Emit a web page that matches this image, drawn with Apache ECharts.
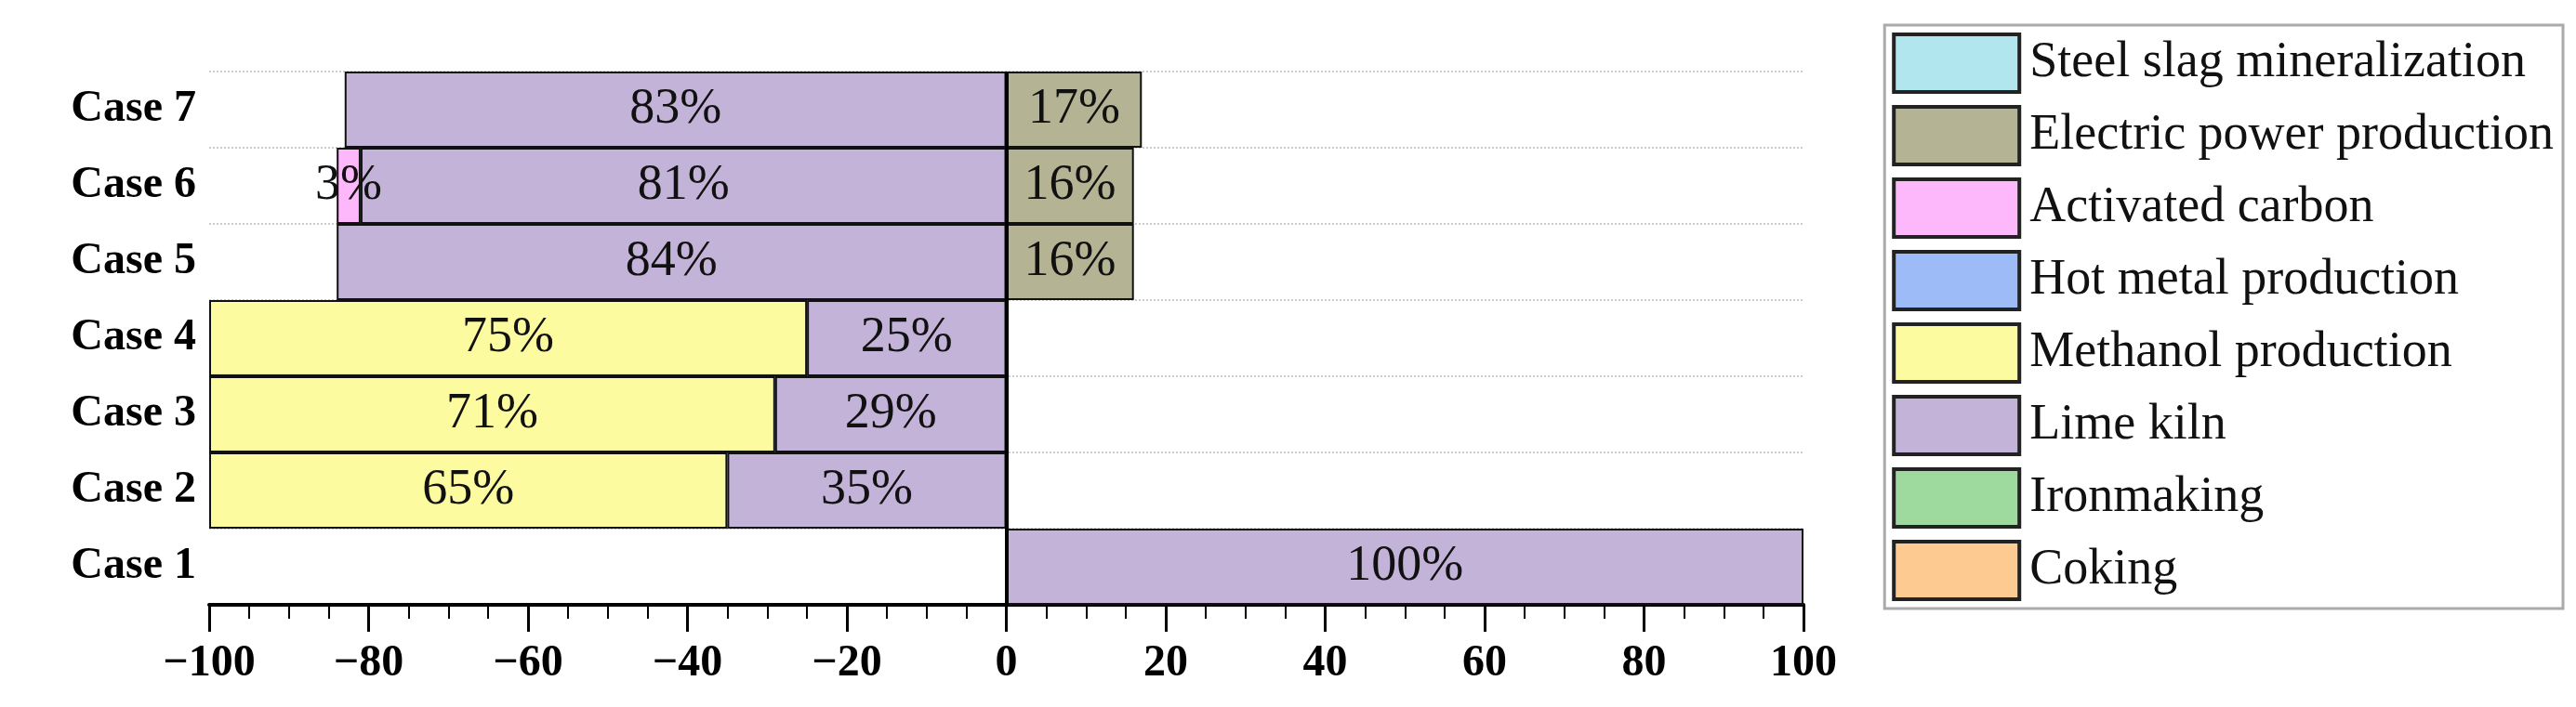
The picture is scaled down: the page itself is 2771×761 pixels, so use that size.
<!DOCTYPE html>
<html><head><meta charset="utf-8">
<script src="https://cdn.jsdelivr.net/npm/echarts@6/dist/echarts.min.js"></script>
<style>html,body{margin:0;background:#fff}#c{width:2771px;height:761px}</style>
</head><body><div id="c"></div>
<script>
var cases = ['Case 1','Case 2','Case 3','Case 4','Case 5','Case 6','Case 7'];
// negative = left side, positive = right side
var limeKiln = [100,-35,-29,-25,-84,-81,-83];
var methanol = [null,-65,-71,-75,null,null,null];
var activatedCarbon = [null,null,null,null,null,-3,null];
var electricPower = [null,null,null,null,16,16,17];
var steelSlag = [null,null,null,null,null,null,null];
var hotMetal = [null,null,null,null,null,null,null];
var ironmaking = [null,null,null,null,null,null,null];
var coking = [null,null,null,null,null,null,null];
var xTicks = [-100,-80,-60,-40,-20,0,20,40,60,80,100];

var font = 'Liberation Serif';
function bar(name, data, color){
  return {
    name: name, type: 'bar', stack: 'all', data: data,
    barCategoryGap: '0%',
    itemStyle: {color: color, borderColor: '#111', borderWidth: 2},
    label: {show: true, position: 'inside', fontFamily: font, fontSize: 54, color: '#111',
      formatter: function(p){ return p.value == null ? '' : Math.abs(p.value) + '%'; }}
  };
}
var series = [
  bar('Lime kiln', limeKiln, '#c3b3d8'),
  bar('Methanol production', methanol, '#fdfba0'),
  bar('Activated carbon', activatedCarbon, '#fdb7fb'),
  bar('Electric power production', electricPower, '#b4b494'),
  bar('Steel slag mineralization', steelSlag, '#b2e6ee'),
  bar('Hot metal production', hotMetal, '#9dbbf6'),
  bar('Ironmaking', ironmaking, '#9ed99e'),
  bar('Coking', coking, '#fdcb92')
];
// vertical zero line
series[0].markLine = {silent: true, symbol: 'none', label: {show: false},
  lineStyle: {color: '#000', width: 4, type: 'solid'}, data: [{xAxis: 0}]};

var myChart = echarts.init(document.getElementById('c'));
myChart.setOption({
  animation: false,
  grid: {left: 225, right: 831, top: 77, bottom: 110},
  legend: {
    orient: 'vertical', right: 14, top: 27,
    data: ['Steel slag mineralization','Electric power production','Activated carbon','Hot metal production','Methanol production','Lime kiln','Ironmaking','Coking'],
    itemWidth: 135, itemHeight: 62, itemGap: 12,
    borderColor: '#aaa', borderWidth: 3, padding: [8, 10, 8, 8],
    icon: 'rect',
    itemStyle: {borderColor: '#222', borderWidth: 4},
    textStyle: {fontFamily: font, fontSize: 54, color: '#111', padding: [0, 0, 0, 6]}
  },
  xAxis: {
    type: 'value', min: -100, max: 100, interval: 20,
    axisLine: {show: true, lineStyle: {color: '#000', width: 4}},
    axisTick: {show: true, length: 29, lineStyle: {color: '#000', width: 3}},
    minorTick: {show: true, splitNumber: 4, length: 15, lineStyle: {color: '#000', width: 2}},
    splitLine: {show: false},
    axisLabel: {fontFamily: font, fontSize: 48, fontWeight: 'bold', color: '#000', margin: 40,
      formatter: function(v){ return xTicks.indexOf(v) >= 0 ? String(v).replace('-', '\u2212') : ''; }}
  },
  yAxis: {
    type: 'category', data: cases,
    axisLine: {show: false, onZero: false},
    axisTick: {show: false},
    splitLine: {show: true, lineStyle: {color: '#ccc', type: 'dotted', width: 2}},
    axisLabel: {fontFamily: font, fontSize: 48, fontWeight: 'bold', color: '#000', margin: 14}
  },
  series: series
});
</script></body></html>
